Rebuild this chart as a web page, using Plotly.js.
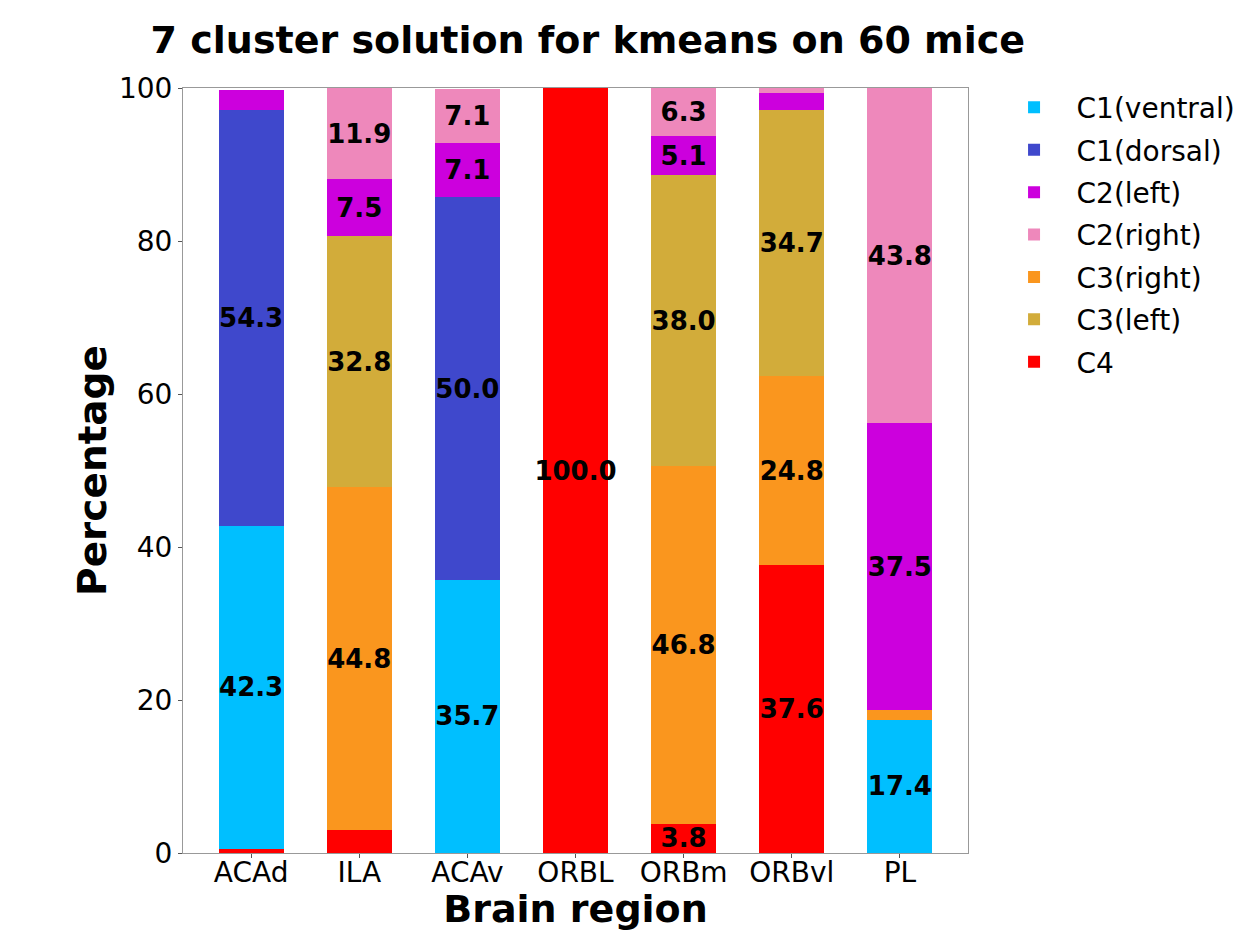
<!DOCTYPE html>
<html><head><meta charset="utf-8">
<script src="https://cdn.plot.ly/plotly-3.0.1.min.js"></script>
<style>html,body{margin:0;padding:0;background:#fff}#chart{width:1256px;height:931px}</style>
</head><body><div id="chart"></div>
<script>
const regions = ["ACAd", "ILA", "ACAv", "ORBL", "ORBm", "ORBvl", "PL"];
// stacked bottom to top
const C4 = [0.5, 3.0, 0, 100.0, 3.8, 37.6, 0];
const C1ventral = [42.3, 0, 35.7, 0, 0, 0, 17.4];
const C3right = [0, 44.8, 0, 0, 46.8, 24.8, 1.3];
const C3left = [0, 32.8, 0, 0, 38.0, 34.7, 0];
const C1dorsal = [54.3, 0, 50.0, 0, 0, 0, 0];
const C2left = [2.7, 7.5, 7.1, 0, 5.1, 2.2, 37.5];
const C2right = [0, 11.9, 7.1, 0, 6.3, 0.7, 43.8];

const series = [
  {name: "C4", y: C4, color: "#FF0000", rank: 7},
  {name: "C1(ventral)", y: C1ventral, color: "#00BFFF", rank: 1},
  {name: "C3(right)", y: C3right, color: "#FA961E", rank: 5},
  {name: "C3(left)", y: C3left, color: "#D2AC3A", rank: 6},
  {name: "C1(dorsal)", y: C1dorsal, color: "#3F48CC", rank: 2},
  {name: "C2(left)", y: C2left, color: "#CC00DD", rank: 3},
  {name: "C2(right)", y: C2right, color: "#EE88BB", rank: 4}
];

const traces = series.map(s => ({
  type: "bar",
  name: s.name,
  legendgroup: s.name,
  x: regions,
  y: s.y,
  width: 0.6,
  legendrank: s.rank,
  marker: {color: s.color, line: {width: 0}},
  text: s.y.map(v => v >= 3.5 ? v.toFixed(1) : ""),
  textposition: "inside",
  insidetextanchor: "middle",
  textangle: 0,
  constraintext: "none",
  textfont: {family: "DejaVu Sans", size: 26, color: "#000", weight: "bold"},
  hoverinfo: "name+y"
}));

const layout = {
  barmode: "stack",
  width: 1256, height: 931,
  margin: {l: 183, r: 288, t: 88, b: 78},
  paper_bgcolor: "#fff", plot_bgcolor: "#fff",
  font: {family: "DejaVu Sans", color: "#000"},
  title: {text: "<b>7 cluster solution for kmeans on 60 mice</b>", font: {size: 38, family: "DejaVu Sans"}, x: 0.468, xanchor: "center", y: 0.957, yanchor: "middle"},
  xaxis: {
    range: [-0.63, 6.63], showgrid: false, zeroline: false,
    showline: true, mirror: true, linecolor: "#999", linewidth: 1,
    ticks: "outside", ticklen: 4, tickcolor: "#555",
    ticklabelstandoff: -10,
    tickfont: {size: 28},
    title: {text: "<b>Brain region</b>", font: {size: 38}, standoff: 0}
  },
  yaxis: {
    range: [0, 100], showgrid: false, zeroline: false,
    showline: true, mirror: true, linecolor: "#999", linewidth: 1,
    ticks: "outside", ticklen: 4, tickcolor: "#555",
    tickvals: [0, 20, 40, 60, 80, 100],
    tickfont: {size: 28},
    title: {text: "<b>Percentage</b>", font: {size: 39}, standoff: 0}
  },
  legend: {x: 1.03, xanchor: "left", y: 1.007, yanchor: "top", font: {size: 28}, bgcolor: "rgba(0,0,0,0)", traceorder: "grouped", tracegroupgap: 3, itemwidth: 75},
  showlegend: true
};

Plotly.newPlot("chart", traces, layout, {displayModeBar: false, staticPlot: true});
</script>
</body></html>
